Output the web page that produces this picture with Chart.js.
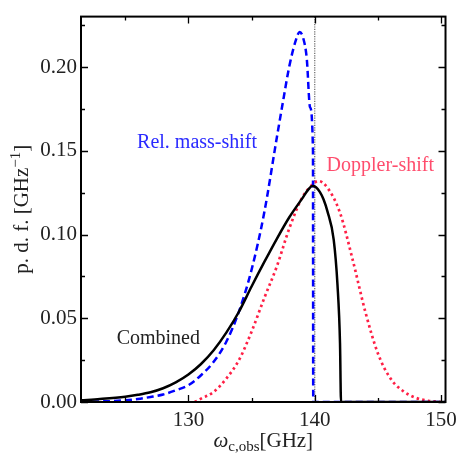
<!DOCTYPE html>
<html>
<head>
<meta charset="utf-8">
<script src="https://cdn.jsdelivr.net/npm/chart.js@4.4.0/dist/chart.umd.min.js"></script>
<style>
  html, body { margin: 0; padding: 0; background: #fff; }
  canvas { display: block; }
</style>
</head>
<body>
<canvas id="pdfChart" width="463" height="453"></canvas>
<script>
// observed cyclotron frequency (GHz) vs probability density
const combinedX = [121.5, 123, 125, 126, 127, 128, 129, 130, 131, 132, 133, 134, 135, 136, 137, 138, 139, 139.5, 139.8, 140.1, 140.4, 140.7, 141, 141.5, 141.8, 142, 142.08, 150.4];
const combinedY = [0.001, 0.0018, 0.0032, 0.0043, 0.0058, 0.0082, 0.0117, 0.0164, 0.0227, 0.0309, 0.0414, 0.0539, 0.069, 0.0835, 0.0975, 0.1105, 0.1215, 0.127, 0.129, 0.1283, 0.1255, 0.121, 0.114, 0.097, 0.070, 0.035, 0, 0];

const massShiftX = [121.5, 123, 125, 126, 127, 128, 129, 130, 131, 132, 133, 134, 135, 136, 137, 137.5, 138, 138.5, 138.8, 139.1, 139.37, 139.63, 139.86, 139.88, 150.4];
const massShiftY = [0, 0.0003, 0.001, 0.0018, 0.003, 0.0045, 0.007, 0.010, 0.016, 0.024, 0.036, 0.054, 0.079, 0.113, 0.158, 0.180, 0.201, 0.216, 0.221, 0.217, 0.205, 0.176, 0.150, 0, 0];

const dopplerX = [130.5, 131, 132, 133, 134, 135, 136, 137, 138, 139, 140, 140.3, 141, 142, 143, 144, 145, 146, 147, 148, 149, 150];
const dopplerY = [0, 0.002, 0.006, 0.014, 0.025, 0.042, 0.062, 0.081, 0.104, 0.122, 0.131, 0.132, 0.128, 0.113, 0.085, 0.054, 0.029, 0.014, 0.0065, 0.0025, 0.0007, 0];

const centreFreq = 140;

const xTicks = [130, 140, 150];
const xMinorTicks = [125, 135, 145];
const yTicks = [0, 0.05, 0.10, 0.15, 0.20];
const yMinorTicks = [0.025, 0.075, 0.125, 0.175, 0.225];
const xRange = [121.5, 150.35];
const yRange = [0, 0.2302];

const serif = '"Liberation Serif", "Times New Roman", serif';

// text labels placed in data coordinates
const notes = [
  { text: "Rel. mass-shift", x: 125.94, y: 0.1517, color: "#2a2aff" },
  { text: "Doppler-shift", x: 140.94, y: 0.1378, color: "#ff4d6d" },
  { text: "Combined", x: 124.32, y: 0.0345, color: "#222" },
];

const toPoints = (xs, ys) => xs.map((x, i) => ({ x: x, y: ys[i] }));

const framePlugin = {
  id: "frame",
  afterDatasetsDraw(chart) {
    const { ctx, chartArea: a, scales } = chart;
    const xs = scales.x, ys = scales.y;
    ctx.save();

    // inward ticks on all four sides
    ctx.strokeStyle = "#000";
    ctx.lineWidth = 1.3;
    const tickX = (v, len) => {
      const px = Math.round(xs.getPixelForValue(v)) + 0.5;
      ctx.beginPath();
      ctx.moveTo(px, a.bottom); ctx.lineTo(px, a.bottom - len);
      ctx.moveTo(px, a.top); ctx.lineTo(px, a.top + len);
      ctx.stroke();
    };
    const tickY = (v, len) => {
      const py = Math.round(ys.getPixelForValue(v)) + 0.5;
      ctx.beginPath();
      ctx.moveTo(a.left, py); ctx.lineTo(a.left + len, py);
      ctx.moveTo(a.right, py); ctx.lineTo(a.right - len, py);
      ctx.stroke();
    };
    xTicks.forEach((v) => tickX(v, 7));
    xMinorTicks.forEach((v) => tickX(v, 4));
    yTicks.forEach((v) => tickY(v, 7));
    yMinorTicks.forEach((v) => tickY(v, 4));

    ctx.lineWidth = 2;
    ctx.strokeRect(a.left, a.top, a.right - a.left, a.bottom - a.top);

    // annotations
    ctx.font = "20px " + serif;
    ctx.textAlign = "left";
    ctx.textBaseline = "alphabetic";
    notes.forEach((n) => {
      ctx.fillStyle = n.color;
      ctx.fillText(n.text, xs.getPixelForValue(n.x), ys.getPixelForValue(n.y));
    });

    // x axis title: omega_{c,obs}[GHz]
    ctx.fillStyle = "#222";
    const big = "21px " + serif, small = "15px " + serif;
    ctx.font = "italic " + big;
    const wOmega = ctx.measureText("ω").width;
    ctx.font = small;
    const wSub = ctx.measureText("c,obs").width;
    ctx.font = big;
    const wUnit = ctx.measureText("[GHz]").width;
    let x0 = (a.left + a.right) / 2 - (wOmega + wSub + wUnit) / 2;
    const base = 447;
    ctx.font = "italic " + big;
    ctx.fillText("ω", x0, base);
    ctx.font = small;
    ctx.fillText("c,obs", x0 + wOmega, base + 4);
    ctx.font = big;
    ctx.fillText("[GHz]", x0 + wOmega + wSub, base);

    // y axis title: p.d.f.[GHz^-1]
    ctx.translate(28, (a.top + a.bottom) / 2);
    ctx.rotate(-Math.PI / 2);
    const mainTxt = "p. d. f. [GHz";
    ctx.font = big;
    const wMain = ctx.measureText(mainTxt).width;
    const wClose = ctx.measureText("]").width;
    ctx.font = small;
    const wSup = ctx.measureText("−1").width;
    let y0 = -(wMain + wSup + wClose) / 2;
    ctx.font = big;
    ctx.fillText(mainTxt, y0, 0);
    ctx.font = small;
    ctx.fillText("−1", y0 + wMain, -8);
    ctx.font = big;
    ctx.fillText("]", y0 + wMain + wSup, 0);
    ctx.restore();
  },
};

new Chart(document.getElementById("pdfChart"), {
  type: "line",
  data: {
    datasets: [
      {
        label: "Combined",
        data: toPoints(combinedX, combinedY),
        borderColor: "#000",
        borderWidth: 2.5,
        cubicInterpolationMode: "monotone",
      },
      {
        label: "Rel. mass-shift",
        data: toPoints(massShiftX, massShiftY),
        borderColor: "#0000ff",
        borderWidth: 2.5,
        borderDash: [7, 4],
        cubicInterpolationMode: "monotone",
      },
      {
        label: "Doppler-shift",
        data: toPoints(dopplerX, dopplerY),
        borderColor: "#ff1f45",
        borderWidth: 2.7,
        borderDash: [2.5, 3.2],
        cubicInterpolationMode: "monotone",
      },
      {
        label: "centre",
        data: toPoints([centreFreq, centreFreq], yRange),
        borderColor: "#666",
        borderWidth: 1.2,
        borderDash: [1.2, 1.2],
      },
    ],
  },
  options: {
    responsive: false,
    animation: false,
    devicePixelRatio: 1,
    layout: { padding: { top: 6, right: 13, left: 0, bottom: 0 } },
    elements: { point: { radius: 0 } },
    plugins: {
      legend: { display: false },
      tooltip: { enabled: false },
    },
    scales: {
      x: {
        type: "linear",
        min: xRange[0],
        max: xRange[1],
        afterBuildTicks: (scale) => {
          scale.ticks = xTicks.map((v) => ({ value: v }));
        },
        afterFit: (scale) => {
          scale.height = 51;
        },
        grid: { display: false, drawTicks: false },
        border: { display: false },
        ticks: {
          padding: 6,
          color: "#222",
          font: { family: serif, size: 21 },
          maxRotation: 0,
          callback: (v) => String(v),
        },
      },
      y: {
        min: yRange[0],
        max: yRange[1],
        afterBuildTicks: (scale) => {
          scale.ticks = yTicks.map((v) => ({ value: v }));
        },
        afterFit: (scale) => {
          scale.width = 81;
        },
        grid: { display: false, drawTicks: false },
        border: { display: false },
        ticks: {
          padding: 4,
          color: "#222",
          font: { family: serif, size: 21 },
          callback: (v) => v.toFixed(2),
        },
      },
    },
  },
  plugins: [framePlugin],
});
</script>
</body>
</html>
